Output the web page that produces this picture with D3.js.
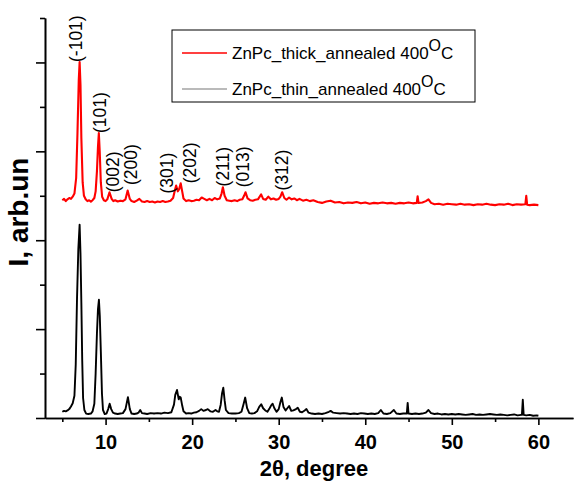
<!doctype html>
<html lang="en">
<head>
<meta charset="utf-8">
<title>ZnPc XRD</title>
<script src="https://cdn.jsdelivr.net/npm/d3@7"></script>
<style>
  body { margin: 0; background: #fff; }
  svg { font-family: "Liberation Sans", Arial, sans-serif; }
</style>
</head>
<body>
<svg id="chart" width="574" height="482"></svg>
<script>
// 2theta (degree) / intensity (arb. units, one y tick = 1)
var thickPattern = [
  [5.0,4.90],[5.2,4.93],[5.4,4.88],[5.6,4.92],[5.8,4.95],[6.0,4.93],[6.2,4.98],[6.4,5.05],
  [6.6,5.40],[6.75,6.40],[6.9,7.60],[7.0,8.01],[7.1,7.50],[7.2,6.30],[7.35,5.30],[7.5,5.00],
  [7.7,4.92],[7.9,4.88],[8.1,4.90],[8.3,4.87],[8.5,4.90],[8.7,4.95],[8.85,5.10],[9.0,5.55],
  [9.12,6.10],[9.22,6.41],[9.32,6.00],[9.45,5.30],[9.6,4.98],[9.8,4.90],[10.0,4.88],[10.2,4.92],
  [10.45,5.08],[10.7,4.93],[10.9,4.88],[11.1,4.90],[11.4,4.87],[11.7,4.89],[12.0,4.88],[12.3,4.92],
  [12.55,5.12],[12.8,4.93],[13.0,4.88],[13.3,4.86],[13.6,4.89],[13.9,4.93],[14.2,4.87],[14.5,4.86],
  [14.8,4.88],[15.1,4.86],[15.4,4.87],[15.7,4.85],[16.0,4.87],[16.3,4.86],[16.6,4.88],[16.9,4.86],
  [17.2,4.87],[17.5,4.89],[17.8,4.95],[18.0,5.12],[18.15,5.23],[18.35,5.10],[18.5,5.15],[18.68,5.28],
  [18.85,5.10],[19.0,4.94],[19.3,4.88],[19.6,4.90],[19.9,4.88],[20.2,4.89],[20.5,4.91],[20.8,4.90],
  [21.1,4.96],[21.4,4.93],[21.7,4.90],[22.0,4.93],[22.3,4.90],[22.6,4.95],[22.9,4.92],[23.2,4.94],
  [23.4,5.05],[23.55,5.19],[23.75,5.00],[24.0,4.90],[24.3,4.89],[24.6,4.88],[24.9,4.90],[25.2,4.88],
  [25.5,4.91],[25.8,4.92],[26.0,5.00],[26.17,5.08],[26.4,4.94],[26.7,4.90],[27.0,4.89],[27.3,4.91],
  [27.6,4.92],[27.97,5.03],[28.2,4.93],[28.5,4.91],[28.8,4.98],[29.1,4.92],[29.4,4.94],[29.7,4.91],
  [30.0,4.93],[30.2,4.98],[30.4,5.08],[30.65,4.95],[30.9,4.91],[31.2,4.96],[31.5,4.92],[31.8,4.94],
  [32.1,4.90],[32.4,4.93],[32.8,4.89],[33.2,4.91],[33.6,4.88],[34.0,4.90],[34.5,4.86],[35.0,4.84],
  [35.5,4.87],[36.0,4.89],[36.5,4.85],[37.0,4.86],[37.5,4.83],[38.0,4.85],[38.5,4.84],[39.0,4.86],
  [39.5,4.83],[40.0,4.85],[40.5,4.82],[41.0,4.84],[41.5,4.83],[42.0,4.85],[42.5,4.83],[43.0,4.84],
  [43.5,4.82],[44.0,4.84],[44.5,4.83],[45.0,4.85],[45.5,4.83],[45.95,4.84],[46.05,4.99],[46.15,4.84],
  [46.6,4.85],[47.0,4.88],[47.3,4.92],[47.6,4.84],[48.0,4.81],[48.5,4.82],[49.0,4.80],[49.5,4.82],
  [50.0,4.81],[50.5,4.80],[51.0,4.82],[51.5,4.80],[52.0,4.81],[52.5,4.79],[53.0,4.81],[53.5,4.80],
  [54.0,4.82],[54.5,4.80],[55.0,4.79],[55.5,4.81],[56.0,4.80],[56.5,4.82],[57.0,4.79],[57.5,4.81],
  [58.0,4.80],[58.5,4.81],[58.6,5.00],[58.7,4.80],[59.0,4.79],[59.5,4.80],[60.0,4.79]
];

var thinPattern = [
  [5.0,0.14],[5.2,0.16],[5.4,0.15],[5.6,0.17],[5.8,0.20],[6.0,0.26],[6.2,0.33],[6.4,0.50],
  [6.55,1.20],[6.7,2.70],[6.85,3.80],[7.0,4.35],[7.1,3.70],[7.2,2.60],[7.3,1.30],[7.4,0.45],
  [7.55,0.18],[7.75,0.10],[8.0,0.09],[8.3,0.10],[8.5,0.15],[8.7,0.32],[8.85,1.00],[9.0,1.90],
  [9.12,2.45],[9.23,2.66],[9.33,2.30],[9.45,1.50],[9.58,0.55],[9.7,0.18],[9.9,0.09],[10.1,0.10],
  [10.3,0.20],[10.47,0.32],[10.65,0.20],[10.85,0.12],[11.1,0.10],[11.4,0.09],[11.7,0.10],[12.0,0.11],
  [12.3,0.20],[12.58,0.47],[12.8,0.20],[13.0,0.10],[13.3,0.09],[13.6,0.10],[13.8,0.12],[14.0,0.18],
  [14.2,0.11],[14.5,0.10],[14.8,0.09],[15.2,0.11],[15.6,0.10],[16.0,0.11],[16.4,0.10],[16.8,0.12],
  [17.2,0.11],[17.6,0.13],[17.9,0.30],[18.05,0.52],[18.25,0.63],[18.45,0.42],[18.55,0.48],[18.68,0.46],
  [18.85,0.28],[19.0,0.15],[19.3,0.10],[19.6,0.11],[19.9,0.10],[20.2,0.12],[20.5,0.13],[20.8,0.16],
  [21.05,0.20],[21.3,0.16],[21.6,0.18],[21.8,0.20],[22.1,0.15],[22.4,0.14],[22.7,0.18],[22.9,0.15],
  [23.1,0.14],[23.3,0.30],[23.45,0.55],[23.6,0.68],[23.75,0.40],[23.9,0.18],[24.2,0.11],[24.6,0.10],
  [25.0,0.10],[25.4,0.11],[25.7,0.14],[25.95,0.32],[26.13,0.46],[26.35,0.22],[26.6,0.11],[26.9,0.10],
  [27.2,0.11],[27.5,0.15],[27.75,0.25],[27.98,0.31],[28.2,0.22],[28.45,0.17],[28.7,0.14],[28.95,0.22],
  [29.15,0.29],[29.3,0.32],[29.5,0.22],[29.75,0.14],[30.0,0.20],[30.2,0.36],[30.36,0.46],[30.55,0.25],
  [30.8,0.17],[31.0,0.22],[31.2,0.27],[31.45,0.16],[31.7,0.17],[32.0,0.20],[32.2,0.23],[32.45,0.14],
  [32.7,0.13],[33.0,0.17],[33.2,0.20],[33.45,0.12],[33.8,0.10],[34.2,0.09],[34.6,0.10],[35.0,0.09],
  [35.4,0.11],[35.8,0.14],[36.0,0.16],[36.3,0.12],[36.7,0.11],[37.1,0.10],[37.5,0.11],[37.9,0.10],
  [38.3,0.09],[38.7,0.10],[39.1,0.09],[39.5,0.11],[39.9,0.10],[40.3,0.09],[40.7,0.10],[41.1,0.09],
  [41.5,0.11],[41.8,0.18],[42.1,0.10],[42.5,0.09],[42.9,0.11],[43.3,0.18],[43.6,0.10],[44.0,0.09],
  [44.4,0.10],[44.8,0.10],[44.9,0.34],[45.0,0.10],[45.4,0.09],[45.8,0.10],[46.2,0.09],[46.6,0.10],
  [47.0,0.12],[47.3,0.18],[47.6,0.11],[48.0,0.09],[48.4,0.10],[48.8,0.08],[49.2,0.09],[49.6,0.08],
  [50.0,0.09],[50.4,0.08],[50.8,0.09],[51.2,0.08],[51.6,0.07],[52.0,0.08],[52.4,0.09],[52.8,0.07],
  [53.2,0.08],[53.6,0.07],[54.0,0.08],[54.4,0.09],[54.8,0.08],[55.2,0.07],[55.6,0.08],[56.0,0.07],
  [56.4,0.06],[56.8,0.07],[57.2,0.08],[57.6,0.06],[58.0,0.07],[58.1,0.07],[58.2,0.41],[58.3,0.07],
  [58.6,0.06],[59.0,0.07],[59.4,0.05],[59.8,0.06],[60.0,0.05]
];

// reflection labels on the thick film: text, 2theta of label, intensity where it starts
var hklNames  = ["(-101)", "(101)", "(002)", "(200)", "(301)", "(202)", "(211)", "(013)", "(312)"];
var hklTheta  = [6.6, 9.36, 10.81, 12.89, 17.04, 19.70, 23.57, 25.88, 30.38];
var hklLevel  = [8.01, 6.41, 5.08, 5.24, 5.05, 5.28, 5.21, 5.19, 5.12];

var xMajor = [10, 20, 30, 40, 50, 60];
var xMinor = [5, 15, 25, 35, 45, 55];
var yMajor = [0, 2, 4, 6, 8];
var yMinor = [1, 3, 5, 7, 9];

var legendNames = ["ZnPc_thick_annealed 400", "ZnPc_thin_annealed 400"];
var colors = ["#ff0000", "#000000"];

var svg = d3.select("#chart");

var x = d3.scaleLinear().domain([3, 64]).range([45, 573]);
var y = d3.scaleLinear().domain([0, 9]).range([418, 18]);

// axes
var gx = svg.append("g").attr("transform", "translate(0," + y(0) + ")");
gx.call(d3.axisBottom(x).tickValues(xMinor).tickSize(4).tickSizeOuter(0).tickFormat(""));
var gx2 = svg.append("g").attr("transform", "translate(0," + y(0) + ")")
  .call(d3.axisBottom(x).tickValues(xMajor).tickSize(7).tickSizeOuter(0).tickPadding(10));
gx2.selectAll("text").attr("font-size", 20).attr("font-weight", "bold").attr("fill", "#000")
  .attr("font-family", "Liberation Sans, Arial, sans-serif");

var gy = svg.append("g").attr("transform", "translate(" + x(3) + ",0)")
  .call(d3.axisLeft(y).tickValues(yMinor).tickSize(5).tickSizeOuter(0).tickFormat(""));
svg.append("g").attr("transform", "translate(" + x(3) + ",0)")
  .call(d3.axisLeft(y).tickValues(yMajor).tickSize(9).tickSizeOuter(0).tickFormat(""));

svg.selectAll(".domain, .tick line").attr("stroke", "#000").attr("stroke-width", 1.6);

// patterns
var line = d3.line().x(function(d) { return x(d[0]); }).y(function(d) { return y(d[1]); });

svg.append("path").datum(thinPattern)
  .attr("fill", "none").attr("stroke", colors[1]).attr("stroke-width", 1.9)
  .attr("stroke-linejoin", "round").attr("d", line);
svg.append("path").datum(thickPattern)
  .attr("fill", "none").attr("stroke", colors[0]).attr("stroke-width", 2.1)
  .attr("stroke-linejoin", "round").attr("d", line);

// hkl labels
svg.selectAll(".hkl").data(hklNames).enter().append("text")
  .attr("class", "hkl")
  .attr("transform", function(d, i) { return "translate(" + x(hklTheta[i]) + "," + y(hklLevel[i]) + ") rotate(-90)"; })
  .attr("dominant-baseline", "central")
  .attr("font-size", 17.5)
  .text(function(d) { return d; });

// axis titles
svg.append("text").attr("x", 314).attr("y", 476).attr("text-anchor", "middle")
  .attr("font-size", 22).attr("font-weight", "bold").text("2\u03B8, degree");
svg.append("text").attr("transform", "translate(28,212) rotate(-90)").attr("text-anchor", "middle")
  .attr("font-size", 28).attr("font-weight", "bold").text("I, arb.un");

// legend
var lg = svg.append("g");
lg.append("rect").attr("x", 172).attr("y", 30).attr("width", 303).attr("height", 72)
  .attr("fill", "#fff").attr("stroke", "#000").attr("stroke-width", 1);
legendNames.forEach(function(name, i) {
  var ly = 53 + i * 36;
  lg.append("line").attr("x1", 182).attr("x2", 227).attr("y1", ly).attr("y2", ly)
    .attr("stroke", i == 0 ? colors[0] : "#777").attr("stroke-width", i == 0 ? 1.6 : 1.2);
  var t = lg.append("text").attr("x", 232).attr("y", ly + 6).attr("font-size", 17).attr("fill", "#000");
  t.append("tspan").text(name);
  t.append("tspan").attr("dy", -8).attr("font-size", 16).text("O");
  t.append("tspan").attr("dy", 8).text("C");
});
</script>
</body>
</html>
